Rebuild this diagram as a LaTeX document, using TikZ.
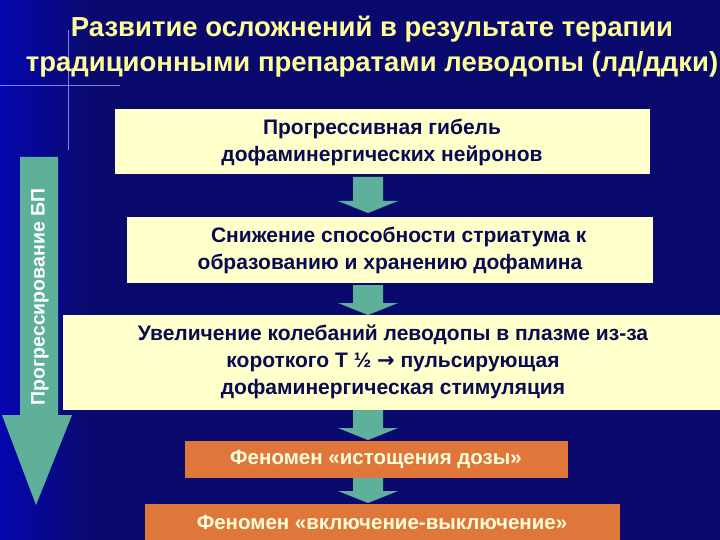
\documentclass[tikz,border=0pt]{standalone}
\usepackage{fontspec}
\setmainfont{Liberation Sans}
\begin{document}
\begin{tikzpicture}[x=1pt,y=-1pt,
  box/.style={fill=yboxc,draw=none,inner sep=0pt,align=center,font=\bfseries\fontsize{21}{27}\selectfont,text=navyt},
  obox/.style={fill=oboxc,draw=none,inner sep=0pt,align=center,font=\bfseries\fontsize{20.5}{24}\selectfont,text=white!85!yellow},
  darr/.style={fill=tealc,draw=none}]
\definecolor{bgc}{HTML}{0A0A6E}
\definecolor{yboxc}{HTML}{FFFFCC}
\definecolor{oboxc}{HTML}{E0773A}
\definecolor{navyt}{HTML}{0A0A50}
\definecolor{tealc}{HTML}{5FB09A}
\definecolor{titc}{HTML}{FFFF99}
\useasboundingbox (0,0) rectangle (720,540);
\fill[bgc] (0,0) rectangle (720,540);
\shade[left color=blue!45!bgc,right color=bgc] (0,0) rectangle (90,540);
% sparkle
\draw[white!50!blue,line width=0.8pt] (0,85) -- (120,85);
\draw[white!50!blue,line width=0.8pt] (68,30) -- (68,150);
% title
\node[text=titc,font=\bfseries\fontsize{27.5}{35}\selectfont,align=center] (title) at (372,47) {Развитие осложнений в результате терапии\\традиционными препаратами леводопы (лд/ддки)};
% big arrow
\fill[darr] (20,157) -- (58,157) -- (58,415) -- (72,415) -- (36,505) -- (2,415) -- (20,415) -- cycle;
\node[rotate=90,text=white,font=\bfseries\fontsize{19.5}{22}\selectfont] (prog) at (40,297) {Прогрессирование БП};
% boxes
\node[box,minimum width=535,minimum height=65] (b1) at (382,142) {Прогрессивная гибель\\дофаминергических нейронов};
\node[box,minimum width=526,minimum height=65] (b2) at (390,250) {\ \ \ Снижение способности стриатума к\\образованию и хранению дофамина};
\node[box,minimum width=660,minimum height=95] (b3) at (393,362) {Увеличение колебаний леводопы в плазме из-за\\короткого Т ½ {\fontspec{DejaVu Sans}\bfseries →} пульсирующая\\дофаминергическая стимуляция};
\node[obox,minimum width=383,minimum height=37] (b4) at (376,459) {Феномен «истощения дозы»};
\node[obox,minimum width=475,minimum height=37] (b5) at (382,522) {Феномен «включение-выключение»};
% small arrows
\newcommand{\smarr}[2]{\fill[darr] (353,#1) -- (383,#1) -- (383,#2-12) -- (398,#2-12) -- (368,#2) -- (338,#2-12) -- (353,#2-12) -- cycle;}
\smarr{177}{213}
\smarr{285}{315}
\smarr{410}{440}
\smarr{478}{503}
\end{tikzpicture}
\end{document}
